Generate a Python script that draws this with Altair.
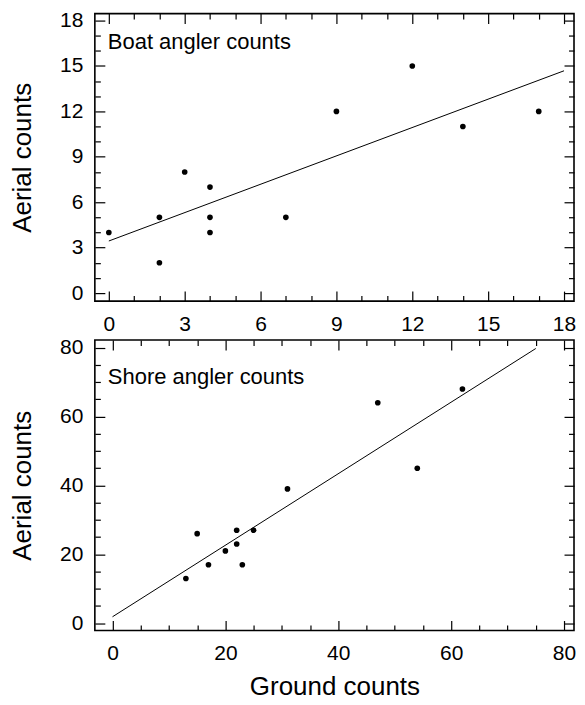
import altair as alt
import pandas as pd

# ---- data ----
boat_ground = [0, 2, 2, 3, 4, 4, 4, 7, 9, 12, 14, 17]
boat_aerial = [4, 5, 2, 8, 7, 5, 4, 5, 12, 15, 11, 12]
shore_ground = [13, 15, 17, 20, 22, 22, 23, 25, 31, 47, 54, 62]
shore_aerial = [13, 26, 17, 21, 27, 23, 17, 27, 39, 64, 45, 68]

boat_ticks = list(range(0, 19, 1))
shore_ticks = list(range(0, 81, 5))
boat_major = 3
shore_major = 20

FONT = "Liberation Sans"


def make_axis(orient, ticks, major, show_labels, title=None, title_pad=0):
    cond = f"datum.value % {major} === 0"
    kw = dict(
        orient=orient,
        values=ticks,
        domain=False,
        grid=False,
        tickSize=alt.ExprRef(f"{cond} ? -10 : -5.5"),
        tickColor="black",
        tickWidth=1.2,
        labelFont=FONT,
        labelFontSize=21,
        labelColor="black",
        labelFlush=False,
        labelOverlap=False,
        minExtent=0,
    )
    if show_labels:
        kw.update(labelExpr=f"{cond} ? datum.label : ''", labelPadding=22)
    else:
        kw.update(labels=False, maxExtent=0)
    if title:
        kw.update(
            title=title,
            titleFont=FONT,
            titleFontSize=26,
            titleFontWeight="normal",
            titleColor="black",
            titlePadding=title_pad,
        )
    else:
        kw.update(title=None)
    return alt.Axis(**kw)


def panel(gx, ay, label, xdom, ydom, ticks, major, extent, xtitle, text_y, h):
    df = pd.DataFrame({"g": gx, "a": ay})
    xs = alt.Scale(domain=xdom, nice=False, zero=False)
    ys = alt.Scale(domain=ydom, nice=False, zero=False)
    pts = alt.Chart(df).mark_circle(size=32, color="black", opacity=1).encode(
        x=alt.X("g:Q", scale=xs,
                axis=make_axis("bottom", ticks, major, True, xtitle, 6)),
        y=alt.Y("a:Q", scale=ys,
                axis=make_axis("left", ticks, major, True, "Aerial counts", 24)),
    )
    fit = alt.Chart(df).transform_regression(
        "g", "a", extent=extent
    ).mark_line(color="black", strokeWidth=1).encode(
        x=alt.X("g:Q", scale=xs, axis=make_axis("top", ticks, major, False)),
        y=alt.Y("a:Q", scale=ys, axis=make_axis("right", ticks, major, False)),
    )
    txt = alt.Chart(pd.DataFrame({"t": [label]})).mark_text(
        align="left", baseline="alphabetic", font=FONT, fontSize=22, color="black"
    ).encode(text="t:N", x=alt.value(13), y=alt.value(text_y))
    return alt.layer(pts, fit, txt).resolve_axis(
        x="independent", y="independent"
    ).properties(width=480, height=h)


top = panel(boat_ground, boat_aerial, "Boat angler counts",
            [-0.553, 18.395], [-0.53, 18.46], boat_ticks, boat_major,
            [0, 18], None, 35, 288)
bottom = panel(shore_ground, shore_aerial, "Shore angler counts",
               [-3.13, 81.77], [-2.1, 82.2], shore_ticks, shore_major,
               [0, 75], "Ground counts", 44, 291)

chart = alt.vconcat(top, bottom, spacing=39, bounds="flush").properties(
    padding={"left": 0, "top": 0, "right": 0, "bottom": 0},
    background="white",
).configure_view(stroke="black", strokeWidth=1.6)

chart.save("out.html", embed_options={"renderer": "svg", "actions": False})
